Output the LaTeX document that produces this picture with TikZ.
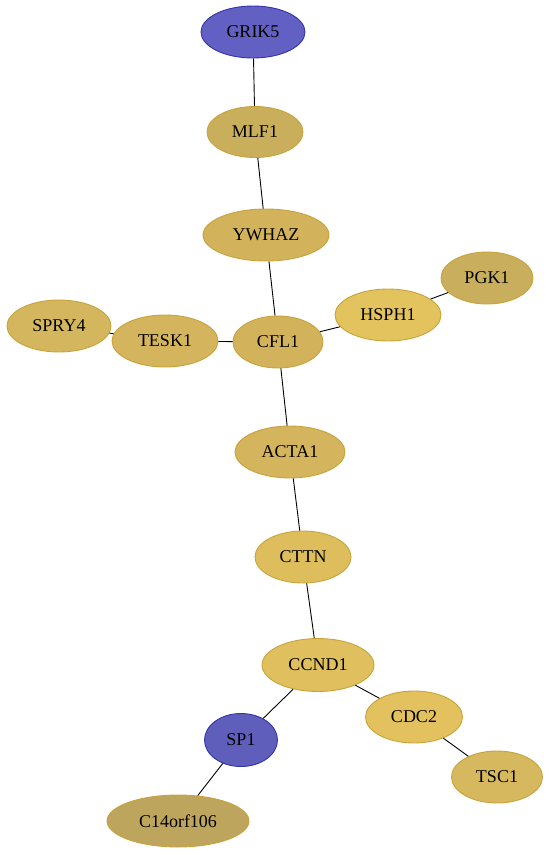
\documentclass[tikz,border=0pt]{standalone}
\usepackage{fontspec}
\setmainfont{Liberation Serif}
\usetikzlibrary{shapes.geometric}
\definecolor{goldline}{HTML}{C9A33A}
\definecolor{blueline}{HTML}{3434A8}
\tikzset{
  gene/.style={ellipse, draw=goldline, line width=0.9pt, inner sep=0pt,
    font=\fontsize{18}{21}\selectfont, text=black},
  bluegene/.style={gene, draw=blueline},
  link/.style={draw=black, line width=0.9pt},
}
\begin{document}
\begin{tikzpicture}[x=1pt,y=-1pt]
\useasboundingbox (0,0) rectangle (549,855);
\node[bluegene, fill={rgb,255:red,98;green,96;blue,194}, minimum width=104, minimum height=52] (GRIK5) at (253,32) {GRIK5};
\node[gene, fill={rgb,255:red,201;green,175;blue,92}, minimum width=96, minimum height=51] (MLF1) at (255,132) {MLF1};
\node[gene, fill={rgb,255:red,210;green,179;blue,92}, minimum width=126, minimum height=52] (YWHAZ) at (266,235) {YWHAZ};
\node[gene, fill={rgb,255:red,201;green,174;blue,94}, minimum width=92, minimum height=52] (PGK1) at (487,278) {PGK1};
\node[gene, fill={rgb,255:red,227;green,195;blue,94}, minimum width=106, minimum height=52] (HSPH1) at (388,315) {HSPH1};
\node[gene, fill={rgb,255:red,212;green,182;blue,94}, minimum width=104, minimum height=52] (SPRY4) at (59,326) {SPRY4};
\node[gene, fill={rgb,255:red,212;green,180;blue,92}, minimum width=106, minimum height=52] (TESK1) at (165,341) {TESK1};
\node[gene, fill={rgb,255:red,210;green,179;blue,92}, minimum width=90, minimum height=52] (CFL1) at (278,342) {CFL1};
\node[gene, fill={rgb,255:red,212;green,180;blue,92}, minimum width=110, minimum height=52] (ACTA1) at (290,452) {ACTA1};
\node[gene, fill={rgb,255:red,222;green,190;blue,92}, minimum width=96, minimum height=52] (CTTN) at (303,557) {CTTN};
\node[gene, fill={rgb,255:red,223;green,191;blue,94}, minimum width=112, minimum height=53] (CCND1) at (318,665) {CCND1};
\node[gene, fill={rgb,255:red,226;green,193;blue,94}, minimum width=97, minimum height=52] (CDC2) at (414,717) {CDC2};
\node[bluegene, fill={rgb,255:red,95;green,95;blue,187}, minimum width=73, minimum height=53] (SP1) at (241,740) {SP1};
\node[gene, fill={rgb,255:red,214;green,184;blue,94}, minimum width=91, minimum height=52] (TSC1) at (497,777) {TSC1};
\node[gene, fill={rgb,255:red,190;green,165;blue,94}, minimum width=142, minimum height=52] (C14) at (178,821) {C14orf106};
\draw[link] (GRIK5) -- (MLF1);
\draw[link] (MLF1) -- (YWHAZ);
\draw[link] (YWHAZ) -- (CFL1);
\draw[link] (PGK1) -- (HSPH1);
\draw[link] (HSPH1) -- (CFL1);
\draw[link] (SPRY4) -- (TESK1);
\draw[link] (TESK1) -- (CFL1);
\draw[link] (CFL1) -- (ACTA1);
\draw[link] (ACTA1) -- (CTTN);
\draw[link] (CTTN) -- (CCND1);
\draw[link] (CCND1) -- (CDC2);
\draw[link] (CCND1) -- (SP1);
\draw[link] (CDC2) -- (TSC1);
\draw[link] (SP1) -- (C14);
\end{tikzpicture}
\end{document}
